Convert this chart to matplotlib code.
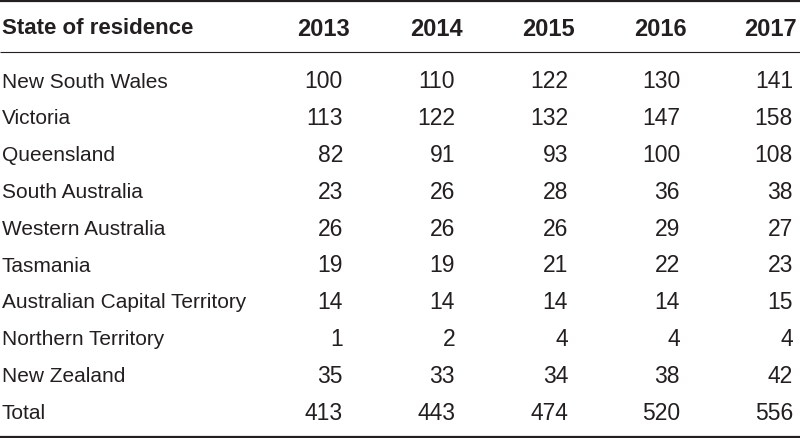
import matplotlib.pyplot as plt
from matplotlib import font_manager

states = ["New South Wales", "Victoria", "Queensland", "South Australia",
          "Western Australia", "Tasmania", "Australian Capital Territory",
          "Northern Territory", "New Zealand", "Total"]
years = ["2013", "2014", "2015", "2016", "2017"]
v2013 = [100, 113, 82, 23, 26, 19, 14, 1, 35, 413]
v2014 = [110, 122, 91, 26, 26, 19, 14, 2, 33, 443]
v2015 = [122, 132, 93, 28, 26, 21, 14, 4, 34, 474]
v2016 = [130, 147, 100, 36, 29, 22, 14, 4, 38, 520]
v2017 = [141, 158, 108, 38, 27, 23, 15, 4, 42, 556]
columns = [v2013, v2014, v2015, v2016, v2017]

names = {f.name for f in font_manager.fontManager.ttflist}
fam = "Liberation Sans Narrow" if "Liberation Sans Narrow" in names else "Liberation Sans"
plt.rcParams['font.family'] = [fam, 'DejaVu Sans']

fig = plt.figure(figsize=(8, 4.38), dpi=100)
ax = fig.add_axes([0, 0, 1, 1])
ax.set_xlim(0, 800)
ax.set_ylim(438, 0)
ax.axis("off")

ink = "#231f20"
head_right = [350, 463, 575, 687, 797]
num_right = [343, 455, 568, 680, 793]

ax.text(2, 29, "State of residence", ha="left", va="center", fontsize=16,
        fontweight="bold", color=ink)
for x, y in zip(head_right, years):
    ax.text(x, 29, y, ha="right", va="center", fontsize=17,
            fontweight="bold", color=ink)

row_y0, row_dy = 82, 36.8
for i, s in enumerate(states):
    y = row_y0 + i * row_dy
    ax.text(2, y, s, ha="left", va="center", fontsize=15, color=ink)
    for x, col in zip(num_right, columns):
        ax.text(x, y, str(col[i]), ha="right", va="center", fontsize=16.5,
                color=ink)

ax.plot([0, 800], [1.2, 1.2], color=ink, lw=1.6, solid_capstyle="butt")
ax.plot([0, 800], [52, 52], color=ink, lw=0.8, solid_capstyle="butt")
ax.plot([0, 800], [436.5, 436.5], color=ink, lw=1.6, solid_capstyle="butt")

fig.savefig("out.png", dpi=100)
